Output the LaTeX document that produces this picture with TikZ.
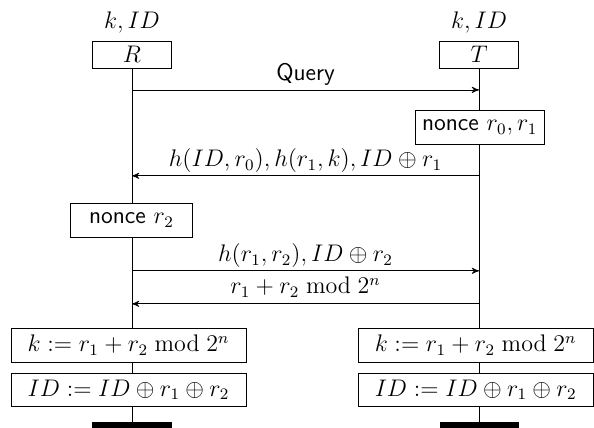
\documentclass[tikz,border=0pt]{standalone}
\usetikzlibrary{arrows}
\begin{document}
\begin{tikzpicture}[
	font=\large,
	inst/.style={draw, minimum width=1.39cm, minimum height=0.47cm, inner sep=1pt},
	act/.style={draw, fill=white, minimum height=0.59cm},
	stop/.style={fill, minimum width=1.39cm, minimum height=0.2cm, inner sep=0pt},
	msg/.style={->, >=stealth'},
	lbl/.style={midway, anchor=base, yshift=4.5pt},
	]
		\useasboundingbox (0,0) rectangle (10.44,-7.52);
		
		% instances
		\node (R) at (2.32,-0.96) [inst] {$R$};
		\node (T) at (8.42,-0.96) [inst] {$T$};
		\node (Rkey) at (2.32,-0.39) {$k, ID$};
		\node (Tkey) at (8.42,-0.39) {$k, ID$};
		\node (Rend) at (2.32,-7.52) [stop] {};
		\node (Tend) at (8.42,-7.52) [stop] {};
		\draw (R.south) -- (Rend.north);
		\draw (T.south) -- (Tend.north);
		
		% messages
		\coordinate (q1) at (2.32,-1.58);
		\coordinate (q2) at (8.42,-1.58);
		\coordinate (h1) at (2.32,-3.09);
		\coordinate (h2) at (8.42,-3.09);
		\coordinate (g1) at (2.32,-4.76);
		\coordinate (g2) at (8.42,-4.76);
		\coordinate (m1) at (2.32,-5.34);
		\coordinate (m2) at (8.42,-5.34);
		\draw[msg] (q1) -- (q2) node[lbl] {\sffamily Query};
		\draw[msg] (h2) -- (h1) node[lbl] {$h(ID, r_0), h(r_1, k), ID \oplus r_1$};
		\draw[msg] (g1) -- (g2) node[lbl] {$h(r_1, r_2), ID \oplus r_2$};
		\draw[msg] (m2) -- (m1) node[lbl, yshift=0.5pt] {$r_1 + r_2 \bmod 2^n$};
		
		% actions
		\node (nonceT) at (8.43,-2.24) [act, minimum width=2.14cm] {\sffamily nonce $r_0, r_1$};
		\node (nonceR) at (2.31,-3.87) [act, minimum width=2.13cm] {\sffamily nonce $r_2$};
		\node (keyR) at (2.26,-6.07) [act, minimum width=4.13cm] {$k := r_1 + r_2 \bmod 2^n$};
		\node (idR) at (2.26,-6.85) [act, minimum width=4.13cm] {$ID := ID \oplus r_1 \oplus r_2$};
		\node (keyT) at (8.36,-6.07) [act, minimum width=4.13cm] {$k := r_1 + r_2 \bmod 2^n$};
		\node (idT) at (8.36,-6.85) [act, minimum width=4.13cm] {$ID := ID \oplus r_1 \oplus r_2$};
		
	\end{tikzpicture}
\end{document}
